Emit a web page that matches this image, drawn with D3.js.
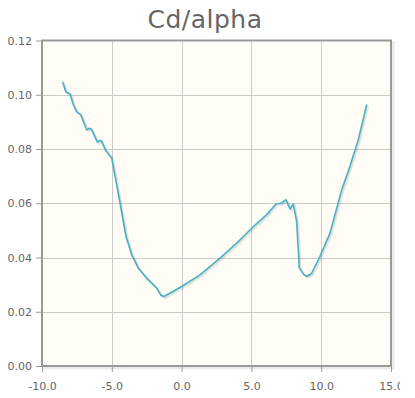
<!DOCTYPE html>
<html>
<head>
<meta charset="utf-8">
<script src="https://cdn.jsdelivr.net/npm/d3@7/dist/d3.min.js"></script>
<style>
  body { margin: 0; background: #ffffff; }
  svg { display: block; font-family: "DejaVu Sans", sans-serif; }
</style>
</head>
<body>
<svg id="chart" width="415" height="398"></svg>
<script>
// Cd vs angle of attack
var alpha = [-8.52, -8.30, -7.99, -7.76, -7.51, -7.23, -6.80, -6.60, -6.44, -6.04, -5.77, -5.44, -5.01,
             -4.41, -3.98, -3.57, -3.10, -2.50, -1.78, -1.50, -1.26, 0.00, 1.32, 2.75, 3.95, 5.02,
             6.10, 6.76, 7.17, 7.48, 7.77, 8.00, 8.24, 8.43, 8.77, 9.00, 9.32, 9.91, 10.63, 11.47,
             12.06, 12.66, 13.26];
var cd = [0.1048, 0.1011, 0.1003, 0.0964, 0.0937, 0.0927, 0.0871, 0.0877, 0.0871, 0.0826, 0.0832, 0.0795, 0.0767,
          0.0601, 0.0477, 0.0410, 0.0361, 0.0324, 0.0287, 0.0262, 0.0256, 0.0293, 0.0336, 0.0398, 0.0453, 0.0508,
          0.0558, 0.0597, 0.0601, 0.0613, 0.0579, 0.0597, 0.0533, 0.0361, 0.0336, 0.0331, 0.0342, 0.0404, 0.0490, 0.0650,
          0.0736, 0.0835, 0.0964];
var xTicks = [-10, -5, 0, 5, 10, 15];
var yTicks = [0, 0.02, 0.04, 0.06, 0.08, 0.10, 0.12];
var chartTitle = "Cd/alpha";

var svg = d3.select("#chart");
// plot area edges (note: "top" is taken by window.top)
var pLeft = 42, pRight = 391, pTop = 40.5, pBottom = 366;

var x = d3.scaleLinear().domain([-10, 15]).range([pLeft, pRight]);
var y = d3.scaleLinear().domain([0, 0.12]).range([pBottom, pTop]);

// the original chart box is 400px wide and clips what spills over
svg.append("defs").append("clipPath").attr("id", "box")
   .append("rect").attr("x", 0).attr("y", 0).attr("width", 400).attr("height", 398);
var root = svg.append("g").attr("clip-path", "url(#box)");

// title
root.append("text")
   .attr("x", 205).attr("y", 28)
   .attr("text-anchor", "middle")
   .style("font-size", "25px")
   .style("letter-spacing", "0.5px")
   .style("fill", "#666666")
   .text(chartTitle);

// border shadow
root.append("rect")
   .attr("x", pLeft + 2).attr("y", pTop + 2)
   .attr("width", pRight - pLeft).attr("height", pBottom - pTop)
   .attr("fill", "none").attr("stroke", "rgba(0,0,0,0.08)").attr("stroke-width", 3);

// plot background
root.append("rect")
   .attr("x", pLeft).attr("y", pTop)
   .attr("width", pRight - pLeft).attr("height", pBottom - pTop)
   .attr("fill", "#fffdf6");

// grid lines
root.append("g").selectAll("line").data(xTicks.slice(1, -1)).join("line")
   .attr("x1", function(d){ return Math.round(x(d)) + 0.5; })
   .attr("x2", function(d){ return Math.round(x(d)) + 0.5; })
   .attr("y1", pTop).attr("y2", pBottom)
   .attr("stroke", "#cccccc");
root.append("g").selectAll("line").data(yTicks.slice(1, -1)).join("line")
   .attr("y1", function(d){ return Math.round(y(d)) + 0.5; })
   .attr("y2", function(d){ return Math.round(y(d)) + 0.5; })
   .attr("x1", pLeft).attr("x2", pRight)
   .attr("stroke", "#cccccc");

// axes (ticks outside the border), plain hyphen minus like the original
var xAxis = d3.axisBottom(x).tickValues(xTicks).tickSize(6).tickPadding(10)
              .tickFormat(function(d){ return d.toFixed(1); });
var yAxis = d3.axisLeft(y).tickValues(yTicks).tickSize(6).tickPadding(4)
              .tickFormat(function(d){ return d.toFixed(2); });

var gx = root.append("g").attr("transform", "translate(0," + pBottom + ")").call(xAxis);
var gy = root.append("g").attr("transform", "translate(" + pLeft + ",0)").call(yAxis);
[gx, gy].forEach(function(g){
    g.select(".domain").remove();
    g.selectAll(".tick line").attr("stroke", "#999999");
    g.selectAll(".tick text").style("font-size", "11px").style("fill", "#666666")
     .style("font-family", "'DejaVu Sans', sans-serif");
});

// series shadow then line
var line = d3.line().x(function(d){ return x(d[0]); }).y(function(d){ return y(d[1]); });
var pts = alpha.map(function(a, i){ return [a, cd[i]]; });
for ( var k = 1; k <= 3; k++ ){
    root.append("path").datum(pts)
       .attr("d", line)
       .attr("transform", "translate(" + (0.6 * k) + "," + (0.6 * k) + ")")
       .attr("fill", "none").attr("stroke", "rgba(0,0,0,0.05)")
       .attr("stroke-width", 2).attr("stroke-linejoin", "round");
}
root.append("path").datum(pts)
   .attr("d", line)
   .attr("fill", "none").attr("stroke", "#4bb2c5")
   .attr("stroke-width", 1.6).attr("stroke-linejoin", "round");

// border
root.append("rect")
   .attr("x", pLeft).attr("y", pTop)
   .attr("width", pRight - pLeft).attr("height", pBottom - pTop)
   .attr("fill", "none").attr("stroke", "#999999").attr("stroke-width", 2);
</script>
</body>
</html>
